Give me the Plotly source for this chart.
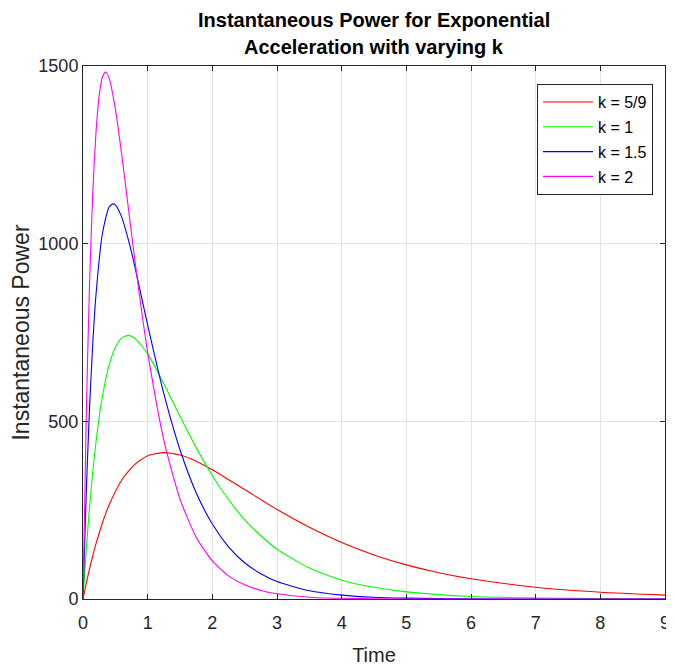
import plotly.graph_objects as go

# Values
t_k59 = [0, 0.05, 0.1, 0.2, 0.3, 0.4, 0.6, 0.8, 1.0, 1.25, 1.5, 1.75, 2, 2.5, 3, 3.5, 4, 4.5, 5, 5.5, 6, 7, 8, 9]
p_k59 = [0, 44, 84, 155, 214, 263, 335, 379, 403, 412, 405, 388, 364, 308, 252, 202, 159, 124, 96, 74, 57, 33, 19, 11]

t_k1 = [0, 0.05, 0.1, 0.15, 0.2, 0.25, 0.3, 0.4, 0.5, 0.6, 0.7, 0.8, 1.0, 1.25, 1.5, 1.75, 2, 2.25, 2.5, 2.75, 3, 3.5, 4, 4.5, 5, 6, 7, 8, 9]
p_k1 = [0, 138, 255, 356, 440, 511, 570, 656, 708, 735, 742, 734, 690, 606, 514, 426, 347, 280, 223, 178, 140, 87, 53, 33, 20, 7, 3, 1, 0]

t_k15 = [0, 0.05, 0.1, 0.15, 0.2, 0.3, 0.4, 0.46, 0.5, 0.6, 0.7, 0.8, 0.9, 1.0, 1.25, 1.5, 1.75, 2, 2.25, 2.5, 2.75, 3, 3.5, 4, 4.5, 5, 6, 7, 8, 9]
p_k15 = [0, 298, 533, 716, 854, 1028, 1102, 1112, 1109, 1074, 1012, 937, 854, 771, 578, 420, 299, 211, 147, 102, 71, 49, 23, 11, 5, 2.5, 0.5, 0, 0, 0]

t_k2 = [0, 0.05, 0.1, 0.15, 0.2, 0.25, 0.3, 0.35, 0.4, 0.5, 0.6, 0.7, 0.8, 0.9, 1.0, 1.25, 1.5, 1.75, 2, 2.25, 2.5, 2.75, 3, 3.5, 4, 5, 6, 7, 8, 9]
p_k2 = [0, 511, 881, 1139, 1311, 1416, 1469, 1483, 1468, 1380, 1249, 1102, 956, 819, 694, 447, 281, 174, 107, 65, 40, 24, 15, 5, 2, 0, 0, 0, 0, 0]

labels = ["k = 5/9", "k = 1", "k = 1.5", "k = 2"]
colors = ["#ff0000", "#00ff00", "#0000ff", "#ff00ff"]
series = [(t_k59, p_k59), (t_k1, p_k1), (t_k15, p_k15), (t_k2, p_k2)]

x_ticks = list(range(0, 10))
y_ticks = [0, 500, 1000, 1500]
title_lines = ["Instantaneous Power for Exponential", "Acceleration with varying k"]

fig = go.Figure()
for (tx, py), name, c in zip(series, labels, colors):
    fig.add_trace(go.Scatter(x=tx, y=py, mode="lines", name=name, legendgroup=name,
                             line=dict(color=c, width=1.1, shape="spline", smoothing=0.6)))

font = "Liberation Sans, Arial, sans-serif"
axis_common = dict(showline=True, linecolor="#262626", linewidth=1, mirror="ticks",
                   ticks="inside", ticklen=5, tickcolor="#262626", automargin=False,
                   showgrid=True, gridcolor="#e3e3e3", gridwidth=1, zeroline=False,
                   ticklabeloverflow="allow",
                   tickfont=dict(family=font, size=18, color="#262626"))

fig.update_layout(
    width=674, height=666,
    margin=dict(l=75, r=17, t=58, b=75),
    paper_bgcolor="white", plot_bgcolor="white",
    xaxis=dict(range=[0, 9], tickvals=x_ticks, ticklabelstandoff=7,
               title=dict(text="Time", standoff=16, font=dict(family=font, size=20, color="#262626")),
               **axis_common),
    yaxis=dict(range=[0, 1500], tickvals=y_ticks, ticklabelstandoff=0,
               title=dict(text="Instantaneous Power", standoff=10, font=dict(family=font, size=23, color="#262626")),
               **axis_common),
    legend=dict(x=0.78, y=0.966, xanchor="left", yanchor="top",
                bgcolor="white", bordercolor="#262626", borderwidth=1,
                font=dict(family=font, size=16, color="#000000"),
                tracegroupgap=1, itemwidth=50),
    showlegend=True,
)

for txt, yp in zip(title_lines, [1.086, 1.0356]):
    fig.add_annotation(text="<b>" + txt + "</b>", xref="paper", yref="paper", x=0.5, y=yp,
                       xanchor="center", yanchor="middle", showarrow=False,
                       font=dict(family=font, size=20, color="#000000"))

fig.write_html("out.html")
